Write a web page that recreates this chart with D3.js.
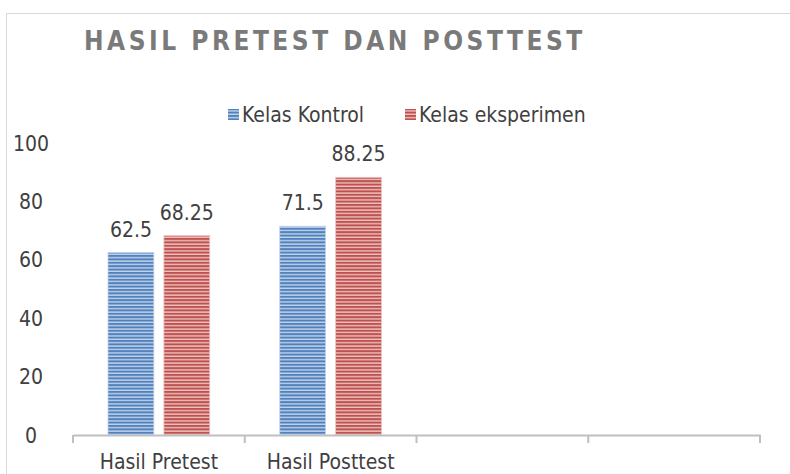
<!DOCTYPE html>
<html>
<head>
<meta charset="utf-8">
<script src="https://cdn.jsdelivr.net/npm/d3@7"></script>
<style>
  body { margin: 0; background: #fff; }
  text { font-family: "DejaVu Sans Condensed", "Open Sans", sans-serif; }
</style>
</head>
<body>
<svg class="chart"></svg>
<script>
var categories = ["Hasil Pretest", "Hasil Posttest", "", ""];
var seriesNames = ["Kelas Kontrol", "Kelas eksperimen"];
var kontrol = [62.5, 71.5];
var eksperimen = [68.25, 88.25];
var yTicks = [0, 20, 40, 60, 80, 100];

var width = 790, height = 474;
var margin = { top: 143, right: 30, bottom: 39, left: 73 };

var chart = d3.select(".chart")
    .attr("width", width)
    .attr("height", height);

// striped fills
var defs = chart.append("defs");
var colors = [
    { id: "blueStripe", dark: "#4f81bd", light: "#c3d3ea" },
    { id: "redStripe", dark: "#c0504d", light: "#ebc3c2" }
];
colors.forEach(function(c) {
    var p = defs.append("pattern")
        .attr("id", c.id)
        .attr("patternUnits", "userSpaceOnUse")
        .attr("width", 6)
        .attr("height", 3.4);
    p.append("rect").attr("width", 6).attr("height", 3.4).attr("fill", c.light);
    p.append("rect").attr("width", 6).attr("height", 2).attr("fill", c.dark);
});

// frame
chart.append("rect")
    .attr("x", 6.5).attr("y", 13.5)
    .attr("width", width).attr("height", height)
    .attr("fill", "none")
    .attr("stroke", "#d9d9d9");

var x = d3.scaleBand()
    .domain(d3.range(categories.length))
    .range([margin.left, width - margin.right]);

var y = d3.scaleLinear()
    .domain([0, 100])
    .range([height - margin.bottom, margin.top]);

var inner = d3.scaleBand()
    .domain([0, 1])
    .range([35, x.bandwidth() - 35])
    .paddingInner(0.18);

// title
chart.append("text")
    .attr("x", 84)
    .attr("y", 50)
    .attr("fill", "#7a7a7a")
    .style("font-size", "26px")
    .style("font-weight", "bold")
    .style("letter-spacing", "3.5px")
    .text("HASIL PRETEST DAN POSTTEST");

// legend
var legend = chart.append("g").attr("transform", "translate(228,115)");
var legX = [0, 177];
seriesNames.forEach(function(name, i) {
    var lg = legend.append("g").attr("transform", "translate(" + legX[i] + ",0)");
    lg.append("rect")
        .attr("x", 0).attr("y", -6)
        .attr("width", 11).attr("height", 11)
        .attr("fill", "url(#" + colors[i].id + ")");
    lg.append("text")
        .attr("x", 14).attr("y", 7)
        .attr("fill", "#404040")
        .style("font-size", "21px")
        .text(name);
});

// y labels (no axis line)
chart.append("g")
    .selectAll("text")
    .data(yTicks)
    .enter()
    .append("text")
    .attr("x", 31)
    .attr("y", function(d) { return y(d) + 7.5; })
    .attr("text-anchor", "middle")
    .attr("fill", "#404040")
    .style("font-size", "21px")
    .text(function(d) { return d; });

// bars
var series = [kontrol, eksperimen];
series.forEach(function(vals, s) {
    chart.append("g")
        .selectAll("rect")
        .data(vals)
        .enter()
        .append("rect")
        .attr("x", function(d, i) { return x(i) + inner(s); })
        .attr("y", function(d) { return y(d); })
        .attr("width", inner.bandwidth())
        .attr("height", function(d) { return y(0) - y(d); })
        .attr("fill", "url(#" + colors[s].id + ")")
        .attr("stroke", colors[s].light)
        .attr("stroke-width", 0.8);

    chart.append("g")
        .selectAll("text")
        .data(vals)
        .enter()
        .append("text")
        .attr("x", function(d, i) { return x(i) + inner(s) + inner.bandwidth() / 2; })
        .attr("y", function(d) { return y(d) - 16; })
        .attr("text-anchor", "middle")
        .attr("fill", "#404040")
        .style("font-size", "21px")
        .text(function(d) { return d; });
});

// x axis
var xAxis = d3.axisBottom(x)
    .tickSize(0)
    .tickFormat(function(i) { return categories[i]; });

var gx = chart.append("g")
    .attr("transform", "translate(0," + y(0) + ")")
    .call(xAxis);
gx.select(".domain").attr("stroke", "#bfbfbf").attr("stroke-width", 2);
gx.selectAll("text")
    .attr("y", 0)
    .attr("dy", 34)
    .attr("fill", "#404040")
    .style("font-size", "21px")
    .style("font-family", "DejaVu Sans Condensed, sans-serif");

// category dividers
var edges = d3.range(categories.length + 1).map(function(i) {
    return i < categories.length ? x(i) : x(categories.length - 1) + x.bandwidth();
});
chart.append("g")
    .selectAll("line")
    .data(edges)
    .enter()
    .append("line")
    .attr("x1", function(d) { return d; })
    .attr("x2", function(d) { return d; })
    .attr("y1", y(0))
    .attr("y2", y(0) + 8)
    .attr("stroke", "#bfbfbf")
    .attr("stroke-width", 2);
</script>
</body>
</html>
